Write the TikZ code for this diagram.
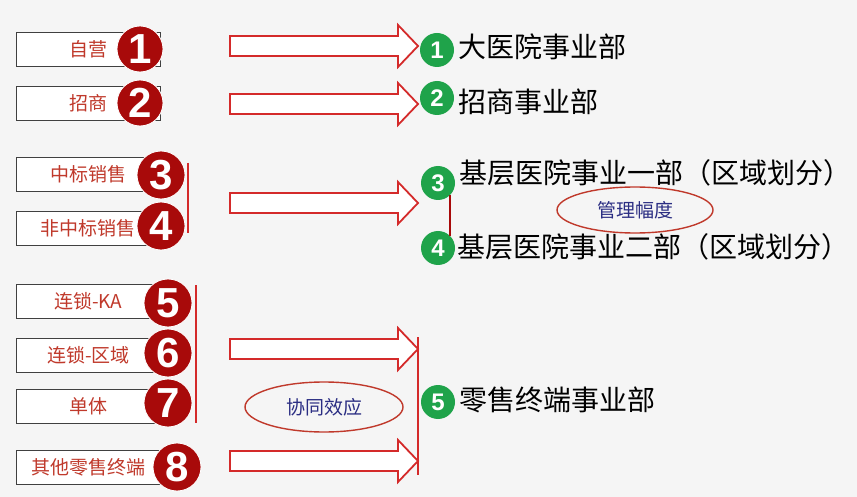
\documentclass[tikz,border=0pt]{standalone}
\usepackage{fontspec}
\setmainfont{Noto Sans CJK SC}
\newfontfamily\digitfont{Liberation Sans}
\usetikzlibrary{shapes.geometric}
\definecolor{bg}{RGB}{245,245,245}
\definecolor{boxred}{HTML}{C0392B}
\definecolor{arrowred}{HTML}{D42A2A}
\definecolor{circred}{HTML}{A80A0A}
\definecolor{gr}{HTML}{1FA34A}
\definecolor{navy}{HTML}{2B2E83}
\tikzset{
  lbox/.style={draw=black!75, fill=white, line width=0.8pt, minimum width=144pt, minimum height=34pt, inner sep=0pt, anchor=west, text=boxred, font=\fontsize{19}{19}\selectfont},
  rc/.style={circle, fill=circred, draw=white, line width=0.8pt, minimum size=48pt, inner sep=0pt, text=white, font=\digitfont\bfseries\fontsize{42}{42}\selectfont},
  gc/.style={circle, fill=gr, minimum size=34pt, inner sep=0pt, text=white, font=\digitfont\bfseries\fontsize{24}{24}\selectfont},
  rtext/.style={anchor=west, inner sep=0pt, text=black, font=\fontsize{28}{28}\selectfont},
  redline/.style={draw=arrowred, line width=2.2pt},
  oval/.style={ellipse, draw=boxred, line width=1.4pt, inner sep=0pt, text=navy, font=\fontsize{19}{19}\selectfont},
  barrow/.pic={\draw[arrowred, line width=1.8pt, fill=white, line join=miter] (0,-10) -- (168,-10) -- (168,-21) -- (188,0) -- (168,21) -- (168,10) -- (0,10) -- cycle; \coordinate (-tip) at (188,0);}
}
\begin{document}
\begin{tikzpicture}[x=1pt, y=-1pt]
\fill[bg] (0,0) rectangle (857,497);
\useasboundingbox (0,0) rectangle (857,497);
% left boxes
\node[lbox] (b1) at (16,49) {自营};
\node[lbox] (b2) at (16,103) {招商};
\node[lbox] (b3) at (16,174.5) {中标销售};
\node[lbox] (b4) at (16,228.5) {非中标销售};
\node[lbox] (b5) at (16,301) {连锁-KA};
\node[lbox] (b6) at (16,355.5) {连锁-区域};
\node[lbox] (b7) at (16,406.5) {单体};
\node[lbox] (b8) at (16,467) {其他零售终端};
% red numbered circles
\node[rc, minimum size=46pt] (r1) at (140,49) {1};
\node[rc, minimum size=46pt] (r2) at (140,103) {2};
\node[rc] (r3) at (161,175) {3};
\node[rc] (r4) at (161,226) {4};
\node[rc] (r5) at (168,303) {5};
\node[rc] (r6) at (168,353) {6};
\node[rc] (r7) at (168,403) {7};
\node[rc] (r8) at (177,467) {8};
% brackets
\draw[redline] (188,163) -- (188,233);
\draw[redline] (196,285) -- (196,423);
\draw[redline] (418,337) -- (418,475);
% block arrows
\pic (a1) at (230,46) {barrow};
\pic (a2) at (230,104) {barrow};
\pic (a3) at (230,203) {barrow};
\pic (a6) at (230,349) {barrow};
\pic (a8) at (230,461) {barrow};
% green circles
\node[gc] (g1) at (437,50) {1};
\node[gc] (g2) at (437,98) {2};
\node[gc] (g3) at (438,183) {3};
\node[gc] (g4) at (438,248) {4};
\node[gc] (g5) at (438,402) {5};
\draw[draw=circred, line width=2.2pt] (g3.-45) -- (g4.45);
% right texts
\node[rtext] (t1) at (458,47) {大医院事业部};
\node[rtext] (t2) at (458,102) {招商事业部};
\node[rtext] (t3) at (459,173) {基层医院事业一部（区域划分）};
\node[rtext] (t4) at (457,247) {基层医院事业二部（区域划分）};
\node[rtext] (t5) at (459,400) {零售终端事业部};
% ovals
\node[oval, minimum width=158pt, minimum height=50pt] (e1) at (324,407) {协同效应};
\node[oval, minimum width=156pt, minimum height=46pt] (e2) at (635,210) {管理幅度};
\end{tikzpicture}
\end{document}
